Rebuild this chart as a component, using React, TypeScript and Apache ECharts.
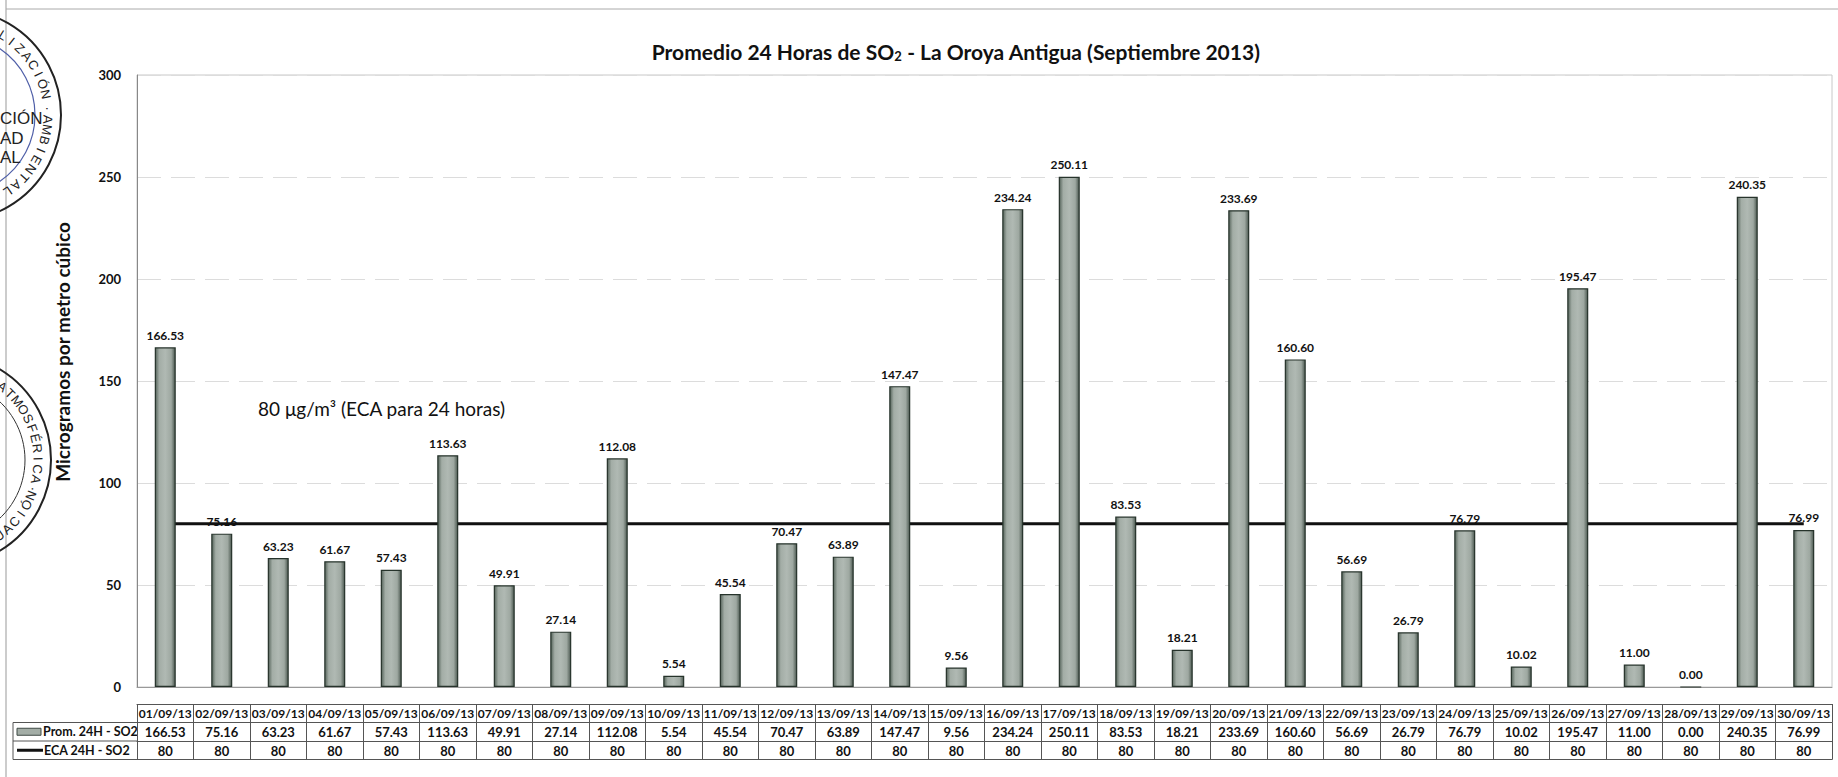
import React, { useEffect, useRef } from "react";
import * as echarts from "echarts";

const dates = [
  "01/09/13", "02/09/13", "03/09/13", "04/09/13", "05/09/13", "06/09/13",
  "07/09/13", "08/09/13", "09/09/13", "10/09/13", "11/09/13", "12/09/13",
  "13/09/13", "14/09/13", "15/09/13", "16/09/13", "17/09/13", "18/09/13",
  "19/09/13", "20/09/13", "21/09/13", "22/09/13", "23/09/13", "24/09/13",
  "25/09/13", "26/09/13", "27/09/13", "28/09/13", "29/09/13", "30/09/13",
];
const prom24h = [
  166.53, 75.16, 63.23, 61.67, 57.43, 113.63, 49.91, 27.14, 112.08, 5.54,
  45.54, 70.47, 63.89, 147.47, 9.56, 234.24, 250.11, 83.53, 18.21, 233.69,
  160.6, 56.69, 26.79, 76.79, 10.02, 195.47, 11.0, 0.0, 240.35, 76.99,
];
const eca24h = [
  80, 80, 80, 80, 80, 80, 80, 80, 80, 80, 80, 80, 80, 80, 80,
  80, 80, 80, 80, 80, 80, 80, 80, 80, 80, 80, 80, 80, 80, 80,
];
const yTicks = { min: 0, max: 300, interval: 50 };
const seriesNames = ["Prom. 24H - SO2", "ECA 24H - SO2"];
const titleParts = ["Promedio 24 Horas de SO", "2", " - La Oroya Antigua (Septiembre 2013)"];
const yTitle = "Microgramos por metro cúbico";
const ecaNote = "80 μg/m³ (ECA para 24 horas)";

const FONT = 'Lato, "Noto Sans", sans-serif';
const GRID_LEFT = 137;
const GRID_TOP = 75;
const GRID_RIGHT = 6;
const GRID_BOTTOM_Y = 687;
const ROW_H = 18.5;
const TABLE_TOP = 704;

const barFill = new echarts.graphic.LinearGradient(0, 0, 1, 0, [
  { offset: 0, color: "#55635a" },
  { offset: 0.2, color: "#a3ada6" },
  { offset: 0.5, color: "#b0b9b3" },
  { offset: 0.8, color: "#9ea8a1" },
  { offset: 1, color: "#4c5951" },
]);

function arcText(str: string, cx: number, cy: number, r: number, startDeg: number, stepDeg: number, dir: number, fontSize: number) {
  return str.split("").map((ch, i) => {
    const deg = startDeg + dir * i * stepDeg;
    const t = (deg * Math.PI) / 180;
    return {
      type: "text",
      x: cx + r * Math.cos(t),
      y: cy + r * Math.sin(t),
      rotation: dir === 1 ? -(t + Math.PI / 2) : -(t - Math.PI / 2),
      silent: true,
      style: {
        text: ch,
        fontSize,
        fontFamily: '"Liberation Sans", sans-serif',
        fill: "#222",
        align: "center",
        verticalAlign: "middle",
      },
    };
  });
}

export default function App() {
  const ref = useRef<HTMLDivElement>(null);
  useEffect(() => {
    if (!ref.current) return;
    const chart = echarts.init(ref.current, undefined, { renderer: "svg" });
    const tableLineColor = "#555";
    const rowAxis = (offset: number, fmt: ((v: string, i: number) => string) | null, fontSize = 13) => ({
      type: "category",
      data: dates,
      position: "bottom",
      offset,
      axisLine: { show: true, lineStyle: { color: tableLineColor, width: 1 } },
      axisTick: fmt ? { show: true, interval: 0, length: ROW_H, lineStyle: { color: tableLineColor, width: 1 } } : { show: false },
      axisLabel: fmt
        ? {
            show: true,
            interval: 0,
            margin: 3,
            fontFamily: FONT,
            fontWeight: "bold",
            fontSize,
            color: "#111",
            formatter: fmt,
          }
        : { show: false },
      splitLine: { show: false },
    });
    const off0 = TABLE_TOP - GRID_BOTTOM_Y;

    const stamps: any[] = [
      { type: "circle", silent: true, shape: { cx: -45, cy: 115, r: 106 }, style: { fill: "none", stroke: "#222", lineWidth: 2 } },
      { type: "circle", silent: true, shape: { cx: -45, cy: 115, r: 80 }, style: { fill: "none", stroke: "#4f5fa8", lineWidth: 1.2 } },
      ...arcText("FISCALIZACIÓN", -45, 115, 93, -92, 6.6, 1, 13),
      ...arcText("·AMBIENTAL", -45, 115, 93, -4, 6.6, 1, 13),
      { type: "text", silent: true, x: 0, y: 118, style: { text: "CIÓN", fontSize: 17, fontFamily: '"Liberation Sans Narrow", "Liberation Sans", sans-serif', fill: "#222", verticalAlign: "middle" } },
      { type: "text", silent: true, x: 0, y: 138, style: { text: "AD", fontSize: 17, fontFamily: '"Liberation Sans Narrow", "Liberation Sans", sans-serif', fill: "#222", verticalAlign: "middle" } },
      { type: "text", silent: true, x: 0, y: 157, style: { text: "AL", fontSize: 17, fontFamily: '"Liberation Sans Narrow", "Liberation Sans", sans-serif', fill: "#222", verticalAlign: "middle" } },
      { type: "circle", silent: true, shape: { cx: -55, cy: 460, r: 106 }, style: { fill: "none", stroke: "#222", lineWidth: 2 } },
      { type: "circle", silent: true, shape: { cx: -55, cy: 460, r: 80 }, style: { fill: "none", stroke: "#333", lineWidth: 1 } },
      ...arcText("ATMOSFÉRICA·", -55, 460, 93, -52, 6.4, 1, 13),
      ...arcText("EVALUACIÓN", -55, 460, 93, 80, 6.4, -1, 13),
    ];

    const legendCol: any[] = [
      { type: "line", silent: true, shape: { x1: 13, y1: TABLE_TOP + ROW_H, x2: GRID_LEFT, y2: TABLE_TOP + ROW_H }, style: { stroke: tableLineColor, lineWidth: 1 } },
      { type: "line", silent: true, shape: { x1: 13, y1: TABLE_TOP + 2 * ROW_H, x2: GRID_LEFT, y2: TABLE_TOP + 2 * ROW_H }, style: { stroke: tableLineColor, lineWidth: 1 } },
      { type: "line", silent: true, shape: { x1: 13, y1: TABLE_TOP + 3 * ROW_H, x2: GRID_LEFT, y2: TABLE_TOP + 3 * ROW_H }, style: { stroke: tableLineColor, lineWidth: 1 } },
      { type: "line", silent: true, shape: { x1: 13, y1: TABLE_TOP + ROW_H, x2: 13, y2: TABLE_TOP + 3 * ROW_H }, style: { stroke: tableLineColor, lineWidth: 1 } },
      { type: "rect", silent: true, shape: { x: 17, y: TABLE_TOP + ROW_H * 1.5 - 3.5, width: 24, height: 7 }, style: { fill: "#a3ada6", stroke: "#3f4a44", lineWidth: 1 } },
      { type: "text", silent: true, x: 43, y: TABLE_TOP + ROW_H * 1.5, style: { text: seriesNames[0], fontFamily: FONT, fontWeight: "bold", fontSize: 12.5, fill: "#111", verticalAlign: "middle" } },
      { type: "line", silent: true, shape: { x1: 17, y1: TABLE_TOP + ROW_H * 2.5, x2: 43, y2: TABLE_TOP + ROW_H * 2.5 }, style: { stroke: "#111", lineWidth: 3 } },
      { type: "text", silent: true, x: 44, y: TABLE_TOP + ROW_H * 2.5, style: { text: seriesNames[1], fontFamily: FONT, fontWeight: "bold", fontSize: 12.5, fill: "#111", verticalAlign: "middle" } },
    ];

    chart.setOption({
      animation: false,
      backgroundColor: "#ffffff",
      grid: {
        left: GRID_LEFT,
        right: GRID_RIGHT,
        top: GRID_TOP,
        bottom: 777 - GRID_BOTTOM_Y,
        show: true,
        borderColor: "#c8c8c8",
        borderWidth: 1,
      },
      xAxis: [
        {
          type: "category",
          data: dates,
          axisLine: { show: true, lineStyle: { color: "#999" } },
          axisTick: { show: false },
          axisLabel: { show: false },
          splitLine: { show: false },
        },
        rowAxis(off0, (v: string) => v, 12),
        rowAxis(off0 + ROW_H, (_v: string, i: number) => prom24h[i].toFixed(2), 13),
        rowAxis(off0 + 2 * ROW_H, (_v: string, i: number) => String(eca24h[i]), 13),
        rowAxis(off0 + 3 * ROW_H, null),
      ],
      yAxis: {
        type: "value",
        min: yTicks.min,
        max: yTicks.max,
        interval: yTicks.interval,
        axisLine: { show: true, lineStyle: { color: "#888" } },
        axisTick: { show: false },
        axisLabel: { margin: 16, fontFamily: FONT, fontWeight: "bold", fontSize: 13, color: "#111" },
        splitLine: { show: true, lineStyle: { color: "#dcdcdc", type: [24, 10], width: 1 } },
      },
      series: [
        {
          name: seriesNames[1],
          type: "line",
          data: eca24h,
          xAxisIndex: 0,
          symbol: "none",
          lineStyle: { color: "#111", width: 3 },
          z: 1,
        },
        {
          name: seriesNames[0],
          type: "bar",
          data: prom24h,
          xAxisIndex: 0,
          barWidth: 21,
          z: 2,
          itemStyle: { color: barFill, borderColor: "#26332b", borderWidth: 1.2 },
          label: {
            show: true,
            position: "top",
            distance: 6,
            fontFamily: FONT,
            fontWeight: "bold",
            fontSize: 12,
            color: "#111",
            formatter: (p: any) => Number(p.value).toFixed(2),
          },
        },
      ],
      graphic: [
        { type: "line", silent: true, shape: { x1: 6, y1: 0, x2: 6, y2: 777 }, style: { stroke: "#999", lineWidth: 1 } },
        { type: "line", silent: true, shape: { x1: 6, y1: 9, x2: 1838, y2: 9 }, style: { stroke: "#aaa", lineWidth: 1 } },
        ...stamps,
        {
          type: "text",
          silent: true,
          x: 956,
          y: 49,
          style: {
            text: `{a|${titleParts[0]}}{s|${titleParts[1]}}{a|${titleParts[2]}}`,
            align: "center",
            verticalAlign: "middle",
            rich: {
              a: { fontFamily: FONT, fontWeight: "bold", fontSize: 21, lineHeight: 26, fill: "#111", color: "#111", verticalAlign: "bottom" },
              s: { fontFamily: FONT, fontWeight: "bold", fontSize: 13, lineHeight: 15, fill: "#111", color: "#111", verticalAlign: "bottom" },
            },
          },
        },
        {
          type: "text",
          silent: true,
          x: 62,
          y: 352,
          rotation: Math.PI / 2,
          style: { text: yTitle, fontFamily: FONT, fontWeight: "bold", fontSize: 19, fill: "#111", align: "center", verticalAlign: "middle" },
        },
        {
          type: "text",
          silent: true,
          x: 258,
          y: 408,
          style: { text: ecaNote, fontFamily: FONT, fontSize: 19, fill: "#111", verticalAlign: "middle" },
        },
        ...legendCol,
      ],
    });
    return () => chart.dispose();
  }, []);
  return <div ref={ref} style={{ width: 1838, height: 777, position: "absolute", left: 0, top: 0 }} />;
}
